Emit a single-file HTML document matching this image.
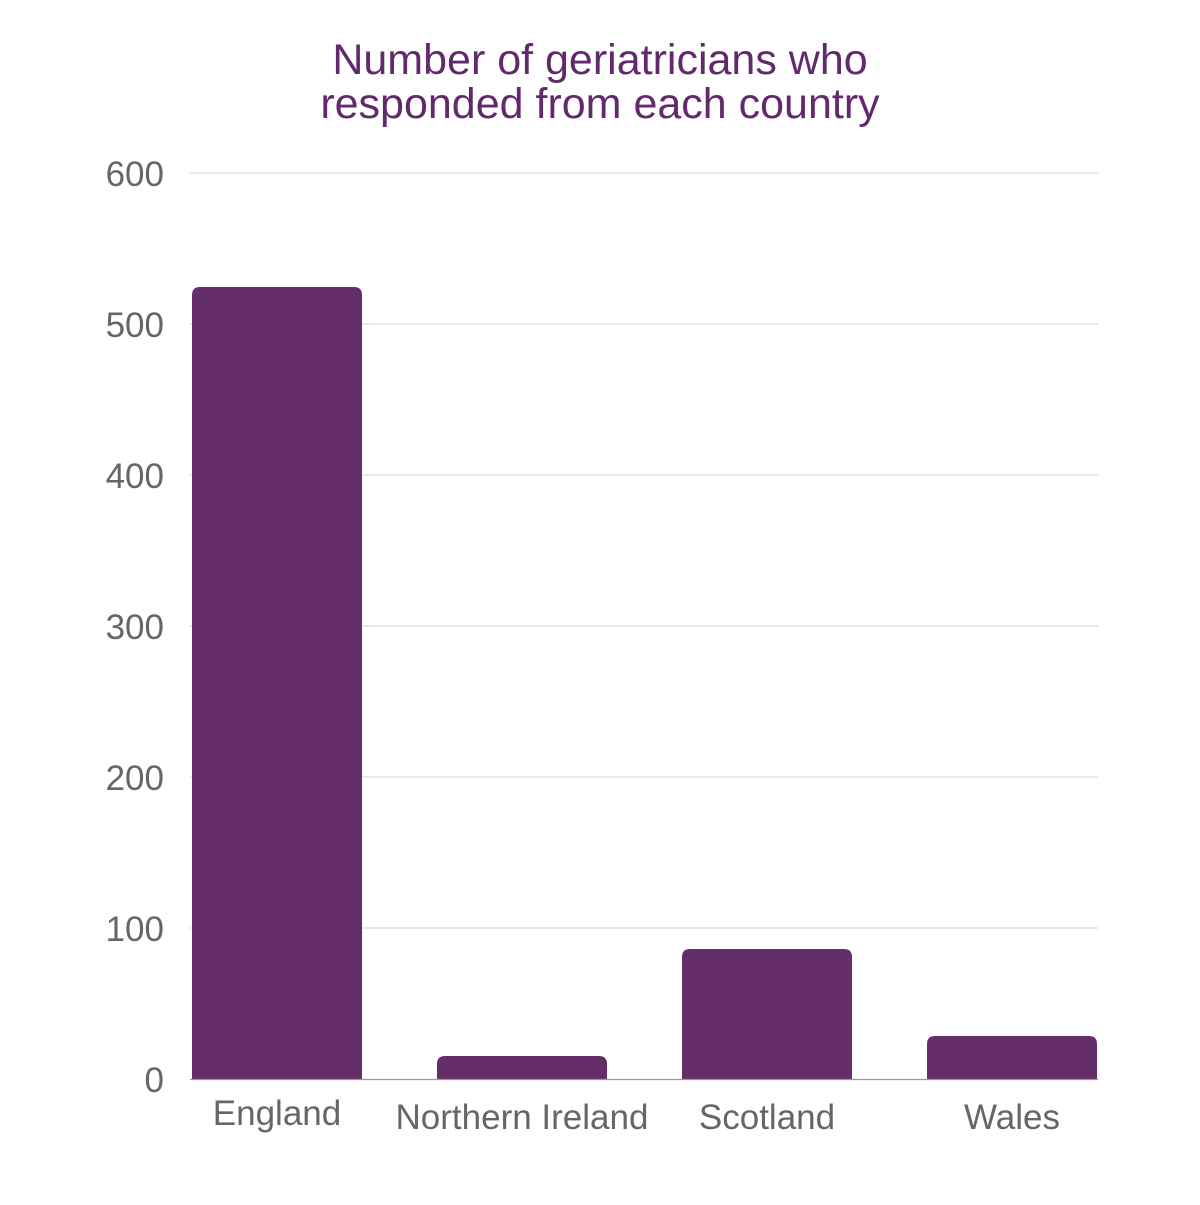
<!DOCTYPE html>
<html><head><meta charset="utf-8"><style>
html,body{margin:0;padding:0;background:#fff;}
</style></head><body>
<svg width="1200" height="1200" xmlns="http://www.w3.org/2000/svg" font-family="Liberation Sans, sans-serif">
<rect width="1200" height="1200" fill="#fff"/>
<text x="600" y="74" text-anchor="middle" font-size="43" fill="#622a6c">Number of geriatricians who</text>
<text x="600" y="118" text-anchor="middle" font-size="43" fill="#622a6c">responded from each country</text>
<g stroke="#d9d9d9" stroke-width="1.2">
<line x1="190" x2="1098" y1="173" y2="173"/>
<line x1="190" x2="1098" y1="324" y2="324"/>
<line x1="190" x2="1098" y1="475" y2="475"/>
<line x1="190" x2="1098" y1="626" y2="626"/>
<line x1="190" x2="1098" y1="777" y2="777"/>
<line x1="190" x2="1098" y1="928" y2="928"/>
</g>
<g font-size="35" fill="#666" text-anchor="end">
<text x="164" y="186">600</text>
<text x="164" y="337">500</text>
<text x="164" y="488">400</text>
<text x="164" y="639">300</text>
<text x="164" y="790">200</text>
<text x="164" y="941">100</text>
<text x="164" y="1092">0</text>
</g>
<g fill="#652e6b">
<path d="M192 1079 V295 Q192 287 200 287 H354 Q362 287 362 295 V1079Z"/>
<path d="M437 1079 V1064 Q437 1056 445 1056 H599 Q607 1056 607 1064 V1079Z"/>
<path d="M682 1079 V957 Q682 949 690 949 H844 Q852 949 852 957 V1079Z"/>
<path d="M927 1079 V1044 Q927 1036 935 1036 H1089 Q1097 1036 1097 1044 V1079Z"/>
</g>
<line x1="190" x2="1098" y1="1079.5" y2="1079.5" stroke="#999" stroke-width="1.2"/>
<g font-size="35" fill="#666" text-anchor="middle">
<text x="277" y="1125">England</text>
<text x="522" y="1129">Northern Ireland</text>
<text x="767" y="1129">Scotland</text>
<text x="1012" y="1129">Wales</text>
</g>
</svg>
</body></html>
